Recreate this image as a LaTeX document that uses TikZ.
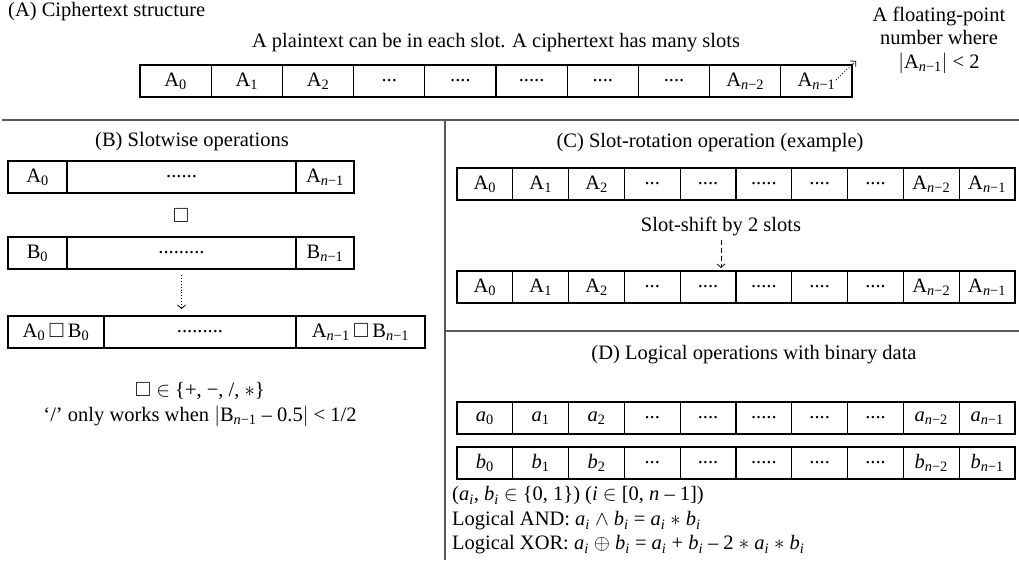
\documentclass[tikz,border=0pt]{standalone}
\usepackage{fontspec}
\usepackage{amssymb}
\setmainfont{Liberation Serif}
\usetikzlibrary{arrows.meta}
\newcommand\sub[1]{\textsubscript{#1}}
\newcommand\slotlabel[2]{\ifcase#2 #1\sub{0}\or #1\sub{1}\or #1\sub{2}\or ...\or ....\or .....\or ....\or ....\or #1\sub{\textit{n}−2}\or #1\sub{\textit{n}−1}\fi}
\begin{document}
\begin{tikzpicture}[x=1pt,y=-1pt,
  font=\fontsize{20.5}{23}\selectfont,
  cell/.style={draw, line width=1.1pt, minimum height=32pt, inner sep=0pt, outer sep=0pt, anchor=north west},
  sepline/.style={draw=black!65, line width=1.3pt},
  lbl/.style={inner sep=0pt},
  barb/.style={-{Straight Barb[length=3.5pt,width=8pt,line width=0.8pt]}},
]
\useasboundingbox (0,0) rectangle (1019,563);

% ---------------- (A)
\node[lbl, anchor=west] (tA) at (8,12) {(A) Ciphertext structure};
\node[lbl] (sA) at (496,43) {A plaintext can be in each slot. A ciphertext has many slots};
\foreach \i in {0,...,9}
  \node[cell, minimum width=71.2pt] (ra\i) at ({140+71.2*\i},65) {\slotlabel{A}{\i}};
\node[lbl, align=center, font=\fontsize{20.5}{23.5}\selectfont] (fp) at (939,40)
  {A floating-point\\number where\\$|$A\sub{\textit{n}−1}$|$ \textless{} 2};
\coordinate (fpend) at (856,61);
\draw[dotted, line width=0.9pt, barb] ([xshift=-16pt,yshift=1pt]ra9.east) -- (fpend);

% separators
\draw[sepline] (2,120) -- (1019,120);
\draw[sepline] (445,120) -- (445,560);
\draw[sepline] (445,331) -- (1019,331);

% ---------------- (B)
\node[lbl] (tB) at (192,142) {(B) Slotwise operations};
\node[cell, minimum width=59pt]  (b1a) at (8,161)   {A\sub{0}};
\node[cell, minimum width=229pt] (b1m) at (67,161)  {......};
\node[cell, minimum width=58pt]  (b1z) at (296,161) {A\sub{\textit{n}−1}};
\node[lbl] (op) at (181,216) {$\square$};
\node[cell, minimum width=59pt]  (b2a) at (8,237)   {B\sub{0}};
\node[cell, minimum width=229pt] (b2m) at (67,237)  {.........};
\node[cell, minimum width=58pt]  (b2z) at (296,237) {B\sub{\textit{n}−1}};
\node[cell, minimum width=96pt]  (b3a) at (8,316)   {A\sub{0}\,$\square$\,B\sub{0}};
\node[cell, minimum width=192pt] (b3m) at (104,316) {.........};
\node[cell, minimum width=129pt] (b3z) at (296,316) {A\sub{\textit{n}−1}\,$\square$\,B\sub{\textit{n}−1}};
\draw[dotted, line width=0.9pt, barb] ([yshift=-6pt]b2m.south) -- ([yshift=7pt]b2m.south |- b3m.north);
\node[lbl] (setB) at (200,391) {$\square$ $\in$ \{+, −, /, $\ast$\}};
\node[lbl] (noteB) at (200,416) {‘/’ only works when $|$B\sub{\textit{n}−1} – 0.5$|$ \textless{} 1/2};

% ---------------- (C)
\node[lbl] (tC) at (710,143) {(C) Slot-rotation operation (example)};
\foreach \i in {0,...,9}
  \node[cell, minimum width=55.8pt] (rc\i) at ({457+55.8*\i},168) {\slotlabel{A}{\i}};
\node[lbl] (shift) at (721,226) {Slot-shift by 2 slots};
\foreach \i in {0,...,9}
  \node[cell, minimum width=55.8pt] (rr\i) at ({457+55.8*\i},271) {\slotlabel{A}{\i}};
\draw[dashed, dash pattern=on 5pt off 3pt, line width=0.9pt, barb] ([yshift=-4pt]shift.south) -- ([yshift=3pt]shift.south |- rr4.north);

% ---------------- (D)
\node[lbl] (tD) at (754,355) {(D) Logical operations with binary data};
\foreach \i in {0,...,9}
  \node[cell, minimum width=55.8pt] (rd\i) at ({457+55.8*\i},402) {\slotlabel{\textit{a}}{\i}};
\foreach \i in {0,...,9}
  \node[cell, minimum width=55.8pt] (re\i) at ({457+55.8*\i},447) {\slotlabel{\textit{b}}{\i}};
\node[lbl, anchor=west] (dl1) at (452,496) {(\textit{a}\sub{\textit{i}}, \textit{b}\sub{\textit{i}} $\in$ \{0, 1\}) (\textit{i} $\in$ [0, \textit{n} – 1])};
\node[lbl, anchor=west] (dl2) at (452,521) {Logical AND: \textit{a}\sub{\textit{i}} $\wedge$ \textit{b}\sub{\textit{i}} = \textit{a}\sub{\textit{i}} $\ast$ \textit{b}\sub{\textit{i}}};
\node[lbl, anchor=west] (dl3) at (452,545) {Logical XOR: \textit{a}\sub{\textit{i}} $\oplus$ \textit{b}\sub{\textit{i}} = \textit{a}\sub{\textit{i}} + \textit{b}\sub{\textit{i}} – 2 $\ast$ \textit{a}\sub{\textit{i}} $\ast$ \textit{b}\sub{\textit{i}}};
\end{tikzpicture}
\end{document}
